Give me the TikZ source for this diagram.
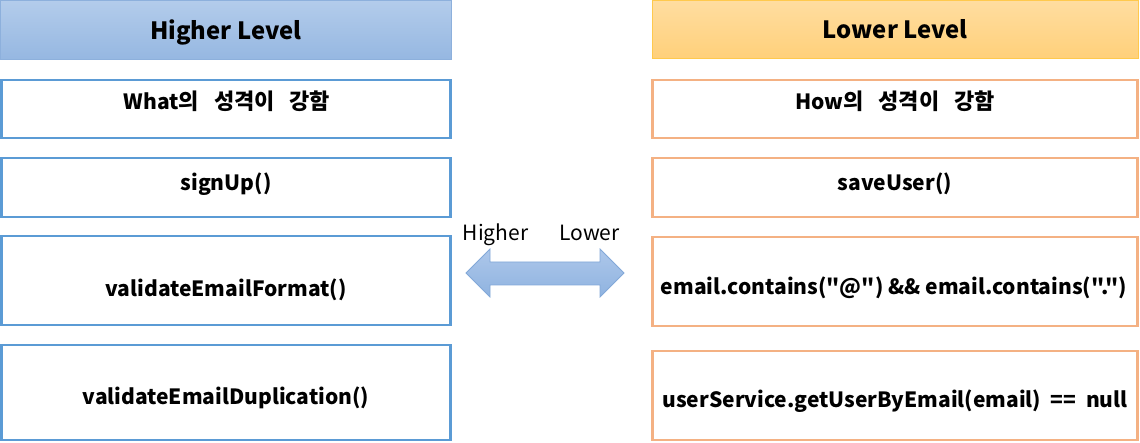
\documentclass[tikz,border=0pt]{standalone}
\usepackage{fontspec}
\setmainfont{Noto Sans CJK KR}[Ligatures=TeXOff]
\definecolor{hltop}{HTML}{B3CCEB}
\definecolor{hlbot}{HTML}{95B7E1}
\definecolor{hlline}{HTML}{8DB0DC}
\definecolor{lltop}{HTML}{FFDDA0}
\definecolor{llbot}{HTML}{FFD07A}
\definecolor{llline}{HTML}{FFC94D}
\definecolor{bluebox}{HTML}{5B9BD5}
\definecolor{orgbox}{HTML}{F4B183}
\definecolor{arrtop}{HTML}{ADC7EA}
\definecolor{arrbot}{HTML}{8FB3E0}
\definecolor{arrline}{HTML}{82A8D8}
\newcommand\Kr[1]{{\fontsize{22}{26}\selectfont #1}}
\newcommand\Gap{\hspace*{15pt}}
\tikzset{
  x=1pt,y=1pt,
  hdrtext/.style={font=\bfseries\fontsize{23.8}{28}\selectfont,anchor=base},
  boxtext/.style={font=\bfseries\fontsize{21}{25}\selectfont,anchor=base},
  hlbox/.style={draw=hlline,line width=1pt,top color=hltop,bottom color=hlbot},
  llbox/.style={draw=llline,line width=1pt,top color=lltop,bottom color=llbot},
  lbox/.style={draw=bluebox,line width=2.6pt,fill=white},
  rbox/.style={draw=orgbox,line width=2.6pt,fill=white},
  lbl/.style={font=\fontsize{21}{25}\selectfont,anchor=base},
}
\begin{document}
\begin{tikzpicture}
\useasboundingbox (0,0) rectangle (1140,442);
% headers
\draw[hlbox] (0.5,441.5) rectangle (451,382);
\node[hdrtext] (hh) at (225.75,402.7) {Higher Level};
\draw[llbox] (652.5,441.5) rectangle (1138,383);
\node[hdrtext] (lh) at (895.25,403) {Lower Level};
% left boxes
\draw[lbox] (1.5,362) rectangle (450.5,304);
\node[boxtext] (l1) at (227,332.5) {What\Kr{의}\Gap\Kr{성격이}\Gap\Kr{강함}};
\draw[lbox] (1.5,284) rectangle (450.5,225);
\node[boxtext] (l2) at (226,251.5) {signUp()};
\draw[lbox] (1.5,206) rectangle (450.5,117);
\node[boxtext] (l3) at (226,146) {validateEmailFormat()};
\draw[lbox] (1.5,97) rectangle (450.5,2);
\node[boxtext] (l4) at (226,38) {validateEmailDuplication()};
% right boxes
\draw[rbox] (652.5,362) rectangle (1137.5,304);
\node[boxtext] (r1) at (895,332.5) {How\Kr{의}\Gap\Kr{성격이}\Gap\Kr{강함}};
\draw[rbox] (652.5,284) rectangle (1137.5,225);
\node[boxtext] (r2) at (895,251.5) {saveUser()};
\draw[rbox] (652.5,205) rectangle (1137.5,116);
\node[boxtext] (r3) at (894,147) {email.contains("@") \&\& email.contains(".")};
\draw[rbox] (652.5,91) rectangle (1137.5,2);
\node[boxtext] (r4) at (895,35) {userService.getUserByEmail(email)\ \ == \ null};
% arrow
\draw[arrline,line width=0.8pt,top color=arrtop,bottom color=arrbot]
  (466,169) -- (490,193) -- (490,180) -- (600,180) -- (600,193) -- (624,169)
  -- (600,145) -- (600,157) -- (490,157) -- (490,145) -- cycle;
\node[lbl] (hl) at (495.5,201) {Higher};
\node[lbl] (ll) at (589.5,201) {Lower};
\end{tikzpicture}
\end{document}
